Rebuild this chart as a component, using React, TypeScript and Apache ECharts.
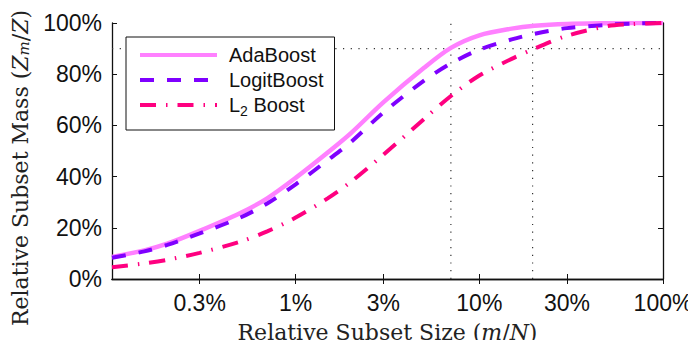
import React, { useEffect, useRef } from 'react';
import * as echarts from 'echarts';

// Relative subset size (m/N), in percent
const subsetSize = [0.1, 0.15, 0.2, 0.3, 0.5, 0.7, 1, 1.5, 2, 3, 5, 7, 10, 15, 20, 30, 50, 70, 100];
// Relative subset mass (Z_m/Z), in percent
const adaBoost = [8.6, 11.2, 13.8, 18.8, 25.8, 31.5, 39.5, 49.5, 57, 69, 82.5, 90.3, 95.2, 97.8, 98.9, 99.6, 99.9, 100, 100];
const logitBoost = [8.3, 10.8, 13.3, 17.8, 24, 29.5, 37, 46.5, 53.5, 65, 77.5, 84.2, 89.6, 93.6, 95.8, 98, 99.3, 99.8, 100];
const l2Boost = [4.6, 6.1, 7.5, 10.2, 14.6, 18.6, 24, 31.6, 38, 48.5, 62.5, 71.5, 79.5, 86, 90, 95, 98.8, 99.6, 100];

const seriesNames = ['AdaBoost', 'LogitBoost', 'L2 Boost'];
const xTickValues = [0.3, 1, 3, 10, 30, 100];
const refMassLevel = 90;
const refSizes = [7, 19.5];

const pairs = (ys: number[]) => subsetSize.map((x, i) => [x, ys[i]]);

export default function App() {
  const ref = useRef<HTMLDivElement>(null);
  useEffect(() => {
    if (!ref.current) return;
    const chart = echarts.init(ref.current, undefined, { renderer: 'svg' });
    const sans = 'Liberation Sans';
    const serif = 'DejaVu Serif';
    const dotted = { color: '#333', width: 1.2, type: [1.2, 6.5] as number[] };
    const xAxisBase = {
      type: 'log' as const,
      logBase: 10,
      min: 0.1,
      max: 100,
      splitLine: { show: false },
      axisLine: { show: true, lineStyle: { color: '#111', width: 1.3 } },
      axisTick: { show: true, inside: true, length: 5, customValues: xTickValues, lineStyle: { color: '#111' } },
      minorTick: { show: false },
    };
    const yAxisBase = {
      type: 'value' as const,
      min: 0,
      max: 100,
      interval: 20,
      splitLine: { show: false },
      axisLine: { show: true, lineStyle: { color: '#111', width: 1.3 } },
      axisTick: { show: true, inside: true, length: 5, lineStyle: { color: '#111' } },
    };
    chart.setOption({
      animation: false,
      backgroundColor: '#fff',
      grid: { left: 112, right: 33, top: 23, bottom: 69, containLabel: false, outerBoundsMode: 'none' },
      xAxis: [
        {
          ...xAxisBase,
          position: 'bottom',
          axisLabel: {
            show: true,
            customValues: xTickValues,
            formatter: (v: number) => `${v}%`,
            fontFamily: sans,
            fontSize: 23,
            color: '#111',
            margin: 12,
          },
          name: 'Relative Subset Size ({i|m}/{i|N})',
          nameLocation: 'middle',
          nameGap: 42,
          nameTextStyle: {
            fontFamily: serif,
            fontSize: 22,
            color: '#222',
            rich: { i: { fontFamily: serif, fontSize: 22, fontStyle: 'italic', color: '#222' } },
          },
        },
        { ...xAxisBase, position: 'top', axisLabel: { show: false } },
      ],
      yAxis: [
        {
          ...yAxisBase,
          position: 'left',
          axisLabel: { formatter: '{value}%', fontFamily: sans, fontSize: 23, color: '#111', margin: 10 },
          name: 'Relative Subset Mass ({i|Z}{s|m}/{i|Z})',
          nameLocation: 'middle',
          nameGap: 81,
          nameTextStyle: {
            fontFamily: serif,
            fontSize: 22,
            color: '#222',
            padding: [0, 34, 0, 0],
            rich: {
              i: { fontFamily: serif, fontSize: 22, fontStyle: 'italic', color: '#222' },
              s: { fontFamily: serif, fontSize: 15, fontStyle: 'italic', color: '#222', verticalAlign: 'bottom', lineHeight: 8 },
            },
          },
        },
        { ...yAxisBase, position: 'right', axisLabel: { show: false } },
      ],
      legend: {
        data: seriesNames,
        orient: 'vertical',
        left: 126,
        top: 37,
        backgroundColor: '#fff',
        borderColor: '#111',
        borderWidth: 1,
        borderRadius: 0,
        padding: [8, 11, 12, 12],
        itemWidth: 77,
        itemHeight: 14,
        itemGap: 5,
        selectedMode: false,
        itemStyle: { opacity: 0 },
        lineStyle: { width: 4 },
        formatter: (name: string) => (name === 'L2 Boost' ? '{n|L}{sub|2}{m| Boost}' : `{n|${name}}`),
        textStyle: {
          fontFamily: sans,
          fontSize: 20,
          color: '#111',
          rich: {
            n: { fontFamily: sans, fontSize: 20, color: '#111', lineHeight: 26, padding: [0, 0, 0, 7] },
            m: { fontFamily: sans, fontSize: 20, color: '#111', lineHeight: 26 },
            sub: { fontFamily: sans, fontSize: 14, color: '#111', lineHeight: 4, verticalAlign: 'bottom' },
          },
        },
      },
      series: [
        {
          type: 'line',
          name: 'ref-h',
          data: [[0.1, refMassLevel], [100, refMassLevel]],
          symbol: 'none',
          silent: true,
          lineStyle: dotted,
          z: 1,
        },
        ...refSizes.map((s, k) => ({
          type: 'line',
          name: `ref-v${k}`,
          data: [[s, 0], [s, 100]],
          symbol: 'none',
          silent: true,
          lineStyle: dotted,
          z: 1,
        })),
        {
          type: 'line',
          name: 'AdaBoost',
          data: pairs(adaBoost),
          symbol: 'none',
          smooth: 0.3,
          lineStyle: { color: '#ff80ff', width: 4.5 },
          itemStyle: { color: '#ff80ff' },
          z: 3,
        },
        {
          type: 'line',
          name: 'LogitBoost',
          data: pairs(logitBoost),
          symbol: 'none',
          smooth: 0.3,
          lineStyle: { color: '#7f00ff', width: 4, type: [14, 13] },
          itemStyle: { color: '#7f00ff' },
          z: 4,
        },
        {
          type: 'line',
          name: 'L2 Boost',
          data: pairs(l2Boost),
          symbol: 'none',
          smooth: 0.3,
          lineStyle: { color: '#ff0080', width: 4, type: [16, 10, 1.5, 10] },
          itemStyle: { color: '#ff0080' },
          z: 5,
        },
      ],
    });
    return () => chart.dispose();
  }, []);
  return <div ref={ref} style={{ width: 696, height: 348, margin: -8 }} />;
}
